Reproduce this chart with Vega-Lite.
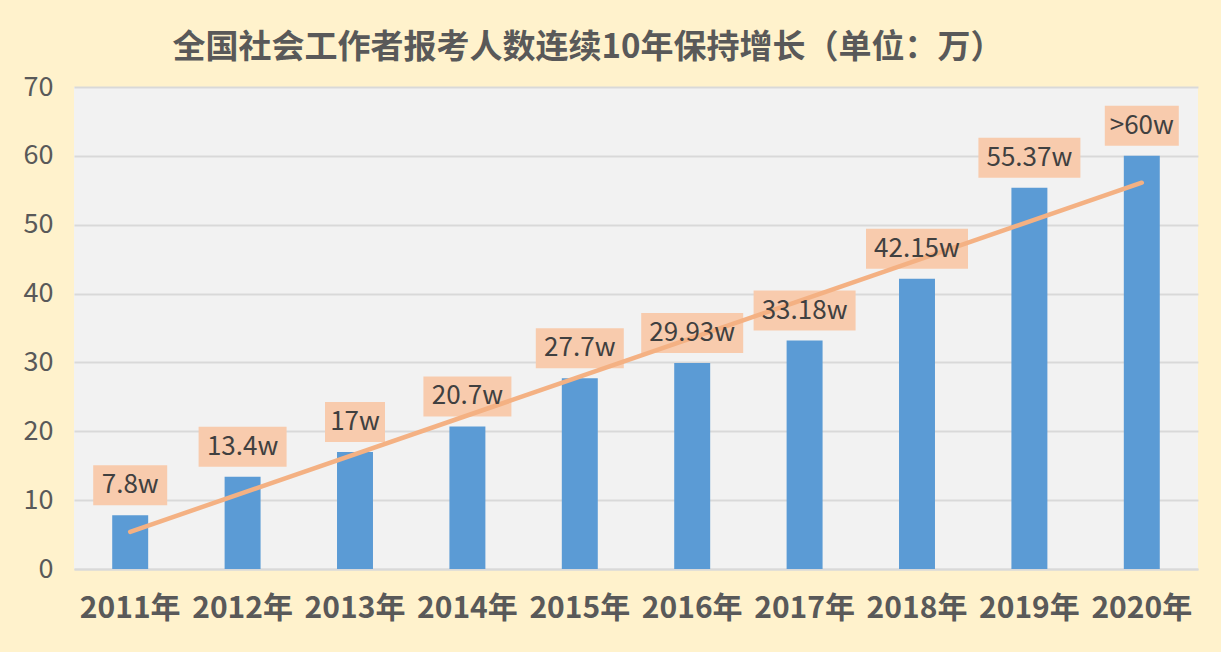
{
  "$schema": "https://vega.github.io/schema/vega-lite/v6.json",
  "width": 1124,
  "height": 482,
  "autosize": {"type": "none"},
  "padding": {"left": 74, "top": 87, "right": 23, "bottom": 83},
  "background": "#FFF2CC",
  "title": {
    "text": "全国社会工作者报考人数连续10年保持增长（单位：万）",
    "font": "Noto Sans CJK SC",
    "fontSize": 33,
    "fontWeight": "bold",
    "color": "#595959",
    "anchor": "middle",
    "dx": -48,
    "offset": 8
  },
  "config": {
    "view": {"fill": "#F2F2F2", "stroke": null},
    "font": "Noto Sans CJK SC"
  },
  "datasets": {
    "main": [
      {"year": "2011年", "value": 7.8, "label": "7.8w"},
      {"year": "2012年", "value": 13.4, "label": "13.4w"},
      {"year": "2013年", "value": 17, "label": "17w"},
      {"year": "2014年", "value": 20.7, "label": "20.7w"},
      {"year": "2015年", "value": 27.7, "label": "27.7w"},
      {"year": "2016年", "value": 29.93, "label": "29.93w"},
      {"year": "2017年", "value": 33.18, "label": "33.18w"},
      {"year": "2018年", "value": 42.15, "label": "42.15w"},
      {"year": "2019年", "value": 55.37, "label": "55.37w"},
      {"year": "2020年", "value": 60, "label": ">60w"}
    ],
    "trend": [
      {"year": "2011年", "value": 5.4},
      {"year": "2020年", "value": 56.1}
    ]
  },
  "encoding": {
    "x": {
      "field": "year",
      "type": "nominal",
      "sort": null,
      "scale": {"paddingInner": 0.68, "paddingOuter": 0.34},
      "axis": {
        "title": null,
        "labelAngle": 0,
        "labelFontSize": 30,
        "labelFontWeight": "bold",
        "labelColor": "#595959",
        "labelPadding": 24,
        "ticks": false,
        "domain": true,
        "domainColor": "#D9D9D9",
        "domainWidth": 2
      }
    },
    "y": {
      "field": "value",
      "type": "quantitative",
      "scale": {"domain": [0, 70], "nice": false},
      "axis": {
        "title": null,
        "values": [0, 10, 20, 30, 40, 50, 60, 70],
        "labelFontSize": 27,
        "labelColor": "#595959",
        "labelPadding": 21,
        "ticks": false,
        "domain": false,
        "grid": true,
        "gridColor": "#D9D9D9",
        "gridWidth": 2
      }
    }
  },
  "layer": [
    {
      "data": {"name": "main"},
      "mark": {"type": "bar", "color": "#5B9BD5"}
    },
    {
      "data": {"name": "main"},
      "mark": {
        "type": "bar",
        "color": "#F8CBAD",
        "width": {"expr": "length(datum.label)*14+18"},
        "yOffset": -50,
        "y2Offset": -10
      },
      "encoding": {
        "y2": {"field": "value"}
      }
    },
    {
      "data": {"name": "trend"},
      "mark": {"type": "line", "color": "#F4B183", "strokeWidth": 4.5, "strokeCap": "round"},
      "encoding": {}
    },
    {
      "data": {"name": "main"},
      "mark": {
        "type": "text",
        "fontSize": 26,
        "color": "#404040",
        "baseline": "middle",
        "dy": -30
      },
      "encoding": {
        "text": {"field": "label"}
      }
    }
  ]
}
